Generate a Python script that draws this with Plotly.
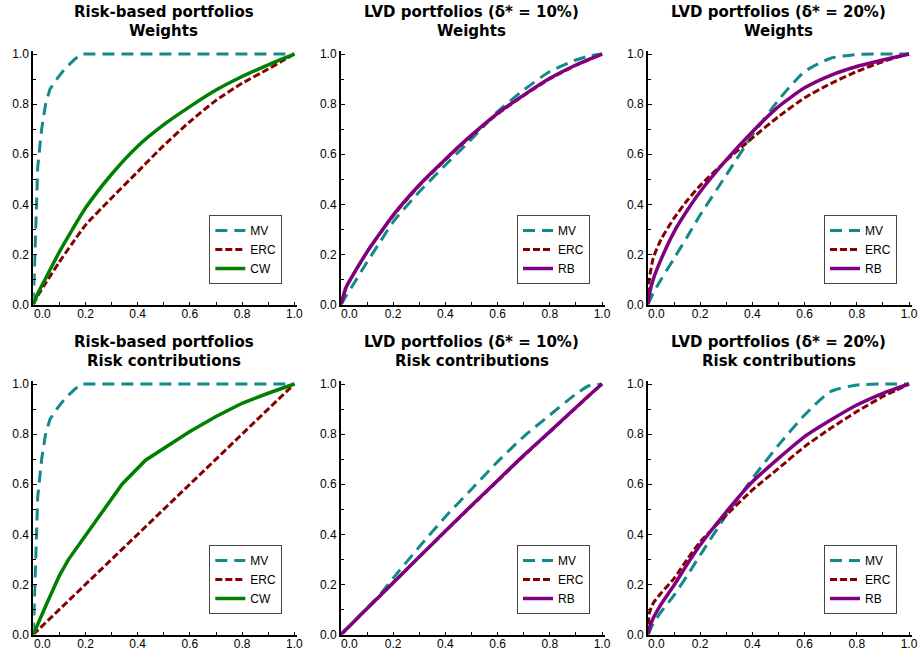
import plotly.graph_objects as go

# ---------------- data ----------------
X = [0, 0.005, 0.02, 0.05, 0.1, 0.15, 0.2, 0.3, 0.4, 0.5, 0.6, 0.7, 0.8, 0.9, 0.95, 1.0]

# Risk-based portfolios: MV (weights and risk contributions coincide)
MV_RB_X = [0, 0.004, 0.008, 0.013, 0.017, 0.022, 0.032, 0.047, 0.064, 0.09, 0.12, 0.16, 0.185, 1.0]
MV_RB_Y = [0, 0.12, 0.30, 0.45, 0.55, 0.60, 0.70, 0.80, 0.86, 0.90, 0.94, 0.98, 1.0, 1.0]

ERC_W_RB = [0, 0.012, 0.04, 0.09, 0.17, 0.245, 0.317, 0.425, 0.53, 0.635, 0.73, 0.815, 0.883, 0.94, 0.97, 1.0]
CW_W_RB = [0, 0.014, 0.05, 0.11, 0.21, 0.30, 0.385, 0.52, 0.632, 0.718, 0.79, 0.856, 0.91, 0.957, 0.979, 1.0]

ERC_RC_RB = [0, 0.005, 0.02, 0.05, 0.1, 0.15, 0.2, 0.3, 0.4, 0.5, 0.6, 0.7, 0.8, 0.9, 0.95, 1.0]
CW_RC_X = [0, 0.02, 0.05, 0.1, 0.135, 0.2, 0.3, 0.34, 0.43, 0.5, 0.6, 0.7, 0.8, 0.9, 1.0]
CW_RC_Y = [0, 0.05, 0.12, 0.235, 0.30, 0.395, 0.545, 0.60, 0.696, 0.743, 0.81, 0.87, 0.923, 0.963, 1.0]

# LVD portfolios, delta* = 10%
MV_W10 = [0, 0.008, 0.035, 0.085, 0.17, 0.25, 0.33, 0.45, 0.557, 0.66, 0.77, 0.856, 0.93, 0.976, 0.992, 1.0]
ERC_W10 = [0, 0.02, 0.07, 0.125, 0.21, 0.285, 0.355, 0.475, 0.578, 0.674, 0.761, 0.834, 0.901, 0.955, 0.978, 1.0]
RB_W10 = [0, 0.02, 0.07, 0.125, 0.21, 0.285, 0.357, 0.477, 0.58, 0.676, 0.763, 0.836, 0.903, 0.956, 0.979, 1.0]

MV_RC10 = [0, 0.005, 0.021, 0.052, 0.105, 0.16, 0.225, 0.35, 0.47, 0.58, 0.69, 0.79, 0.876, 0.96, 0.993, 1.0]
ERC_RC10 = [0, 0.005, 0.021, 0.052, 0.104, 0.155, 0.207, 0.31, 0.412, 0.513, 0.613, 0.713, 0.809, 0.905, 0.953, 1.0]
RB_RC10 = [0, 0.005, 0.021, 0.052, 0.104, 0.155, 0.207, 0.31, 0.413, 0.515, 0.615, 0.715, 0.81, 0.906, 0.954, 1.0]

# LVD portfolios, delta* = 20%
MV_W20 = [0, 0.012, 0.045, 0.10, 0.184, 0.27, 0.357, 0.517, 0.676, 0.816, 0.93, 0.983, 0.998, 1.0, 1.0, 1.0]
ERC_W20 = [0, 0.10, 0.185, 0.26, 0.345, 0.415, 0.475, 0.575, 0.665, 0.75, 0.825, 0.882, 0.93, 0.97, 0.986, 1.0]
RB_W20 = [0, 0.04, 0.10, 0.18, 0.29, 0.375, 0.45, 0.577, 0.69, 0.79, 0.865, 0.915, 0.95, 0.976, 0.988, 1.0]

MV_RC20 = [0, 0.01, 0.044, 0.09, 0.157, 0.235, 0.317, 0.477, 0.623, 0.756, 0.876, 0.97, 0.996, 1.0, 1.0, 1.0]
ERC_RC20 = [0, 0.085, 0.125, 0.165, 0.224, 0.30, 0.37, 0.477, 0.577, 0.663, 0.75, 0.823, 0.89, 0.95, 0.975, 1.0]
RB_RC20 = [0, 0.025, 0.065, 0.12, 0.197, 0.28, 0.357, 0.49, 0.61, 0.703, 0.79, 0.856, 0.916, 0.963, 0.982, 1.0]

TITLE_LINE1 = [
    "Risk-based portfolios",
    "LVD portfolios (δ* = 10%)",
    "LVD portfolios (δ* = 20%)",
    "Risk-based portfolios",
    "LVD portfolios (δ* = 10%)",
    "LVD portfolios (δ* = 20%)",
]
TITLE_LINE2 = ["Weights", "Weights", "Weights",
               "Risk contributions", "Risk contributions", "Risk contributions"]
Y_TICKS = [0, 0.2, 0.4, 0.6, 0.8, 1.0]
Y_TICK_TEXT = ["0.0", "0.2", "0.4", "0.6", "0.8", "1.0"]
X_TICKS = [0, 0.1, 0.2, 0.3, 0.4, 0.5, 0.6, 0.7, 0.8, 0.9, 1.0]
X_TICK_TEXT = ["", "", "0.2", "", "0.4", "", "0.6", "", "0.8", "", "1.0"]

# ---------------- styling ----------------
W, H = 918, 652
TEAL = "#128a8a"
DRED = "#870000"
GREEN = "#008000"
PURPLE = "#800080"
FONT = "Liberation Sans"
TFONT = "DejaVu Sans"

STYLE = {
    "MV": dict(color=TEAL, width=3, dash="12px,7px"),
    "ERC": dict(color=DRED, width=3, dash="7px,3px"),
    "CW": dict(color=GREEN, width=3.5),
    "RB": dict(color=PURPLE, width=3.5),
}

# pixel geometry of the panels (left px of x=0, top px of y=1)
COL_LEFT = [33.3, 341.0, 648.0]
ROW_TOP = [54.0, 384.0]
XLEN = 261.0
YLEN = 250.5
RMAX = 1.012

# (name, x, y, smooth?)
panels = [
    (0, 0, [("MV", MV_RB_X, MV_RB_Y, False), ("ERC", X, ERC_W_RB, True), ("CW", X, CW_W_RB, True)]),
    (0, 1, [("MV", X, MV_W10, True), ("ERC", X, ERC_W10, True), ("RB", X, RB_W10, True)]),
    (0, 2, [("MV", X, MV_W20, True), ("ERC", X, ERC_W20, True), ("RB", X, RB_W20, True)]),
    (1, 0, [("MV", MV_RB_X, MV_RB_Y, False), ("ERC", X, ERC_RC_RB, False), ("CW", CW_RC_X, CW_RC_Y, False)]),
    (1, 1, [("MV", X, MV_RC10, True), ("ERC", X, ERC_RC10, True), ("RB", X, RB_RC10, True)]),
    (1, 2, [("MV", X, MV_RC20, True), ("ERC", X, ERC_RC20, True), ("RB", X, RB_RC20, True)]),
]

fig = go.Figure()
layout = dict(
    width=W, height=H,
    margin=dict(l=0, r=0, t=0, b=0, autoexpand=False),
    paper_bgcolor="white", plot_bgcolor="white",
    font=dict(family=FONT, size=12, color="black"),
    annotations=[], showlegend=True,
)

for i, (r, c, traces) in enumerate(panels):
    k = i + 1
    xa = "x" if k == 1 else f"x{k}"
    ya = "y" if k == 1 else f"y{k}"
    lg = "legend" if k == 1 else f"legend{k}"
    left = COL_LEFT[c]
    top1 = ROW_TOP[r]
    bottom = top1 + YLEN
    xd = [left / W, (left + XLEN * RMAX) / W]
    yd = [1 - bottom / H, 1 - (bottom - YLEN * RMAX) / H]

    for name, xs, ys, smooth in traces:
        line = dict(STYLE[name])
        if smooth:
            line.update(shape="spline", smoothing=0.6)
        fig.add_trace(go.Scatter(
            x=xs, y=ys, mode="lines", name=name,
            line=line, xaxis=xa, yaxis=ya, legend=lg,
            showlegend=True, hoverinfo="skip",
        ))

    axis_common = dict(
        showgrid=False, zeroline=False, showline=True, linecolor="black",
        linewidth=2, mirror=False, range=[0, RMAX], automargin=False,
        tickfont=dict(family=FONT, size=12, color="black"),
        ticks="inside", tickcolor="black", tickwidth=1,
    )
    layout["xaxis" + ("" if k == 1 else str(k))] = dict(
        axis_common, domain=xd, anchor=ya, tickmode="array",
        tickvals=X_TICKS, ticktext=X_TICK_TEXT, ticklen=3,
        ticklabelstandoff=-3,
    )
    layout["yaxis" + ("" if k == 1 else str(k))] = dict(
        axis_common, domain=yd, anchor=xa, tickmode="array",
        tickvals=Y_TICKS, ticktext=Y_TICK_TEXT, ticklen=4,
        minor=dict(tickvals=[0.1, 0.3, 0.5, 0.7, 0.9], ticks="inside",
                   ticklen=3, tickcolor="black", tickwidth=1),
    )

    # "0.0" x label, offset to the right of the origin as in the reference
    layout["annotations"].append(dict(
        text="0.0", xref=xa, yref="paper", x=0.034, y=yd[0],
        xanchor="center", yanchor="top", yshift=0, showarrow=False,
        font=dict(family=FONT, size=12, color="black"),
    ))

    # two-line title
    cx = (left + XLEN / 2) / W
    for line_txt, dy in ((TITLE_LINE1[i], 42.0), (TITLE_LINE2[i], 23.0)):
        layout["annotations"].append(dict(
            text="<b>" + line_txt + "</b>", xref="paper", yref="paper",
            x=cx, y=1 - (top1 - dy) / H,
            xanchor="center", yanchor="middle", showarrow=False,
            font=dict(family=TFONT, size=15, color="black"),
        ))

    # legend box
    layout[lg] = dict(
        x=(left + 176) / W, y=1 - (top1 + 161) / H,
        xanchor="left", yanchor="top",
        bordercolor="#444", borderwidth=1, bgcolor="white",
        font=dict(family=FONT, size=12, color="black"),
        itemwidth=30, tracegroupgap=0,
    )

fig.update_layout(**layout)
fig.write_html("out.html", config={"displayModeBar": False},
               post_script="document.body.style.margin='0';")
